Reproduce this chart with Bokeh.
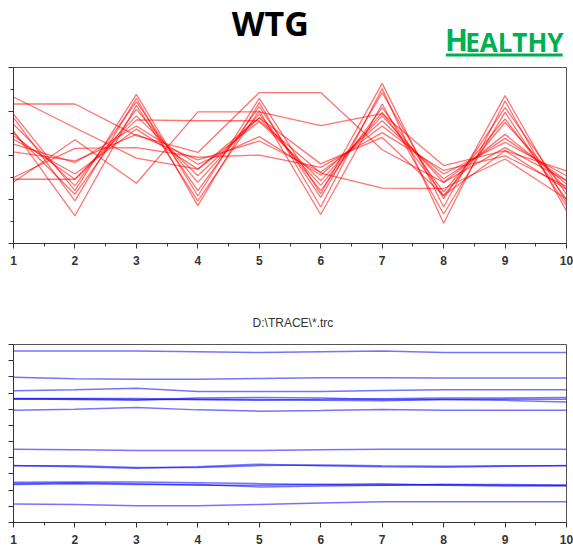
from bokeh.plotting import figure
from bokeh.layouts import column
from bokeh.models import FixedTicker, Label, BoxAnnotation, Range1d
from bokeh.embed import file_html
from bokeh.resources import INLINE

# ---------------- data ----------------
x_vals = [1, 2, 3, 4, 5, 6, 7, 8, 9, 10]
x_minor = [1.5, 2.5, 3.5, 4.5, 5.5, 6.5, 7.5, 8.5, 9.5]

top_y_ticks = [0, 1, 2, 3, 4]
top_y_minor = [0.5, 1.5, 2.5, 3.5]
bottom_y_ticks = [0, 1, 2, 3, 4, 5, 6, 7, 8, 9, 10, 11]

title_main = "WTG"
status_first = "H"
status_rest = "EALTHY"
bottom_title = r"D:\TRACE\*.trc"

red_s1 = [2.94, 1.20, 3.39, 1.08, 3.30, 1.13, 3.64, 0.83, 3.36, 0.93]
red_s2 = [2.86, 0.97, 3.30, 0.86, 3.20, 0.83, 3.52, 0.46, 3.24, 0.74]
red_s3 = [2.71, 1.31, 3.22, 1.20, 3.11, 1.05, 3.43, 1.02, 3.09, 1.12]
red_s4 = [2.56, 0.63, 3.14, 0.97, 3.02, 0.66, 3.17, 0.67, 2.98, 0.86]
red_s5 = [2.51, 1.12, 3.05, 1.39, 2.94, 1.20, 3.09, 1.17, 2.83, 1.01]
red_s6 = [2.45, 1.46, 2.90, 1.54, 2.86, 1.32, 2.98, 1.09, 2.75, 1.23]
red_s7 = [2.37, 1.58, 2.60, 1.69, 2.77, 1.43, 2.90, 1.39, 2.48, 1.35]
red_s8 = [2.26, 1.84, 2.67, 1.80, 2.43, 1.55, 2.79, 1.47, 2.39, 1.43]
red_s9 = [2.08, 1.88, 2.48, 1.90, 2.33, 1.62, 2.67, 1.58, 2.30, 1.54]
red_s10 = [1.39, 2.36, 1.37, 2.99, 2.99, 2.68, 2.95, 1.77, 2.11, 1.65]
red_s11 = [1.50, 2.16, 2.18, 1.96, 2.01, 1.73, 2.52, 1.66, 1.99, 1.30]
red_s12 = [1.46, 1.46, 2.81, 2.79, 2.79, 1.60, 1.26, 1.25, 1.92, 1.01]
red_s13 = [3.17, 3.17, 2.45, 2.07, 3.43, 3.43, 2.13, 1.39, 2.18, 1.43]
red_s14 = [3.33, 2.63, 1.94, 1.69, 2.86, 1.81, 2.41, 1.09, 2.11, 1.23]
red_series = [red_s1, red_s2, red_s3, red_s4, red_s5, red_s6, red_s7,
              red_s8, red_s9, red_s10, red_s11, red_s12, red_s13, red_s14]

blue_l1 = [10.60, 10.60, 10.60, 10.55, 10.50, 10.55, 10.60, 10.50, 10.50, 10.50]
blue_l2 = [8.97, 8.88, 8.86, 8.86, 8.90, 8.95, 8.95, 8.93, 8.93, 8.93]
blue_l3 = [8.14, 8.20, 8.29, 8.10, 8.10, 8.10, 8.15, 8.20, 8.20, 8.20]
blue_l4 = [7.67, 7.67, 7.67, 7.60, 7.55, 7.60, 7.65, 7.70, 7.70, 7.72]
blue_l5 = [7.64, 7.60, 7.55, 7.70, 7.72, 7.70, 7.60, 7.60, 7.55, 7.45]
blue_l6 = [7.62, 7.65, 7.60, 7.62, 7.60, 7.55, 7.52, 7.60, 7.62, 7.62]
blue_l7 = [6.94, 7.00, 7.10, 6.96, 6.88, 6.92, 6.98, 6.94, 6.94, 6.94]
blue_l8 = [4.52, 4.50, 4.45, 4.45, 4.45, 4.50, 4.52, 4.52, 4.52, 4.52]
blue_l9 = [3.52, 3.45, 3.35, 3.45, 3.60, 3.50, 3.45, 3.42, 3.47, 3.52]
blue_l10 = [3.50, 3.50, 3.40, 3.40, 3.52, 3.55, 3.50, 3.48, 3.50, 3.50]
blue_l11 = [2.48, 2.50, 2.50, 2.45, 2.40, 2.35, 2.30, 2.35, 2.30, 2.30]
blue_l12 = [2.40, 2.45, 2.40, 2.30, 2.30, 2.35, 2.40, 2.30, 2.25, 2.25]
blue_l13 = [2.35, 2.40, 2.35, 2.35, 2.20, 2.25, 2.30, 2.35, 2.35, 2.30]
blue_l14 = [1.14, 1.12, 1.04, 1.04, 1.12, 1.20, 1.29, 1.29, 1.29, 1.29]
blue_series = [blue_l1, blue_l2, blue_l3, blue_l4, blue_l5, blue_l6, blue_l7,
               blue_l8, blue_l9, blue_l10, blue_l11, blue_l12, blue_l13, blue_l14]

# ---------------- layout ----------------
W = 573
GREEN = "#00b050"


def blank_fig(h):
    f = figure(width=W, height=h, x_range=Range1d(0, W), y_range=Range1d(h, 0),
               x_axis_type=None, y_axis_type=None, toolbar_location=None,
               output_backend="svg", min_border=0)
    f.outline_line_color = None
    f.grid.visible = False
    return f


header = blank_fig(62)
header.add_layout(Label(x=266, y=22, text=title_main, text_align="center",
                        text_baseline="middle", text_font="Open Sans",
                        text_font_style="bold", text_font_size="34px",
                        text_color="black"))
header.add_layout(Label(x=447, y=39, text=status_first, text_align="left",
                        text_baseline="middle", text_font="Open Sans",
                        text_font_style="bold", text_font_size="30px",
                        text_color=GREEN))
header.add_layout(Label(x=468, y=41, text=status_rest, text_align="left",
                        text_baseline="middle", text_font="Open Sans",
                        text_font_style="bold", text_font_size="26px",
                        text_color=GREEN))
header.add_layout(BoxAnnotation(left=448, right=569, top=53, bottom=56,
                                fill_color=GREEN, fill_alpha=1, line_color=None))


def style_axes(p, yticks, yminor):
    p.grid.visible = False
    p.outline_line_color = "#555555"
    p.outline_line_width = 1
    p.xaxis.ticker = FixedTicker(ticks=x_vals, minor_ticks=x_minor)
    p.xaxis.major_label_overrides = {v: str(v) for v in x_vals}
    p.yaxis.ticker = FixedTicker(ticks=yticks, minor_ticks=yminor)
    for ax in (p.xaxis, p.yaxis):
        ax.axis_line_color = "#333333"
        ax.major_tick_line_color = "#333333"
        ax.minor_tick_line_color = "#333333"
        ax.major_tick_in = 0
        ax.major_tick_out = 5
        ax.minor_tick_in = 0
        ax.minor_tick_out = 3
    p.xaxis.major_label_text_font = "Liberation Sans"
    p.xaxis.major_label_text_font_size = "12px"
    p.xaxis.major_label_text_font_style = "bold"
    p.xaxis.major_label_text_color = "#333333"
    p.xaxis.major_label_standoff = 7
    p.yaxis.major_label_overrides = {v: "" for v in yticks}
    p.yaxis.major_label_standoff = 0


p1 = figure(width=W, height=238, x_range=Range1d(1, 10), y_range=Range1d(0, 4),
            toolbar_location=None, output_backend="svg",
            min_border_left=13, min_border_right=7, min_border_top=5,
            min_border_bottom=57)
style_axes(p1, top_y_ticks, top_y_minor)
for s in red_series:
    p1.line(x_vals, s, line_color="#ff0000", line_alpha=0.55, line_width=1.3)

caption = blank_fig(32)
caption.add_layout(Label(x=289.5, y=22, text=bottom_title, text_align="center",
                         text_baseline="middle", text_font="Liberation Sans",
                         text_font_size="12px", text_color="#333333"))

p2 = figure(width=W, height=216, x_range=Range1d(1, 10), y_range=Range1d(0, 11),
            toolbar_location=None, output_backend="svg",
            min_border_left=13, min_border_right=7, min_border_top=12,
            min_border_bottom=26)
style_axes(p2, bottom_y_ticks, [])
for s in blue_series:
    p2.line(x_vals, s, line_color="#0000ff", line_alpha=0.55, line_width=1.5)

layout = column(header, p1, caption, p2, spacing=0)

open("out.html", "w").write(file_html(layout, INLINE))
